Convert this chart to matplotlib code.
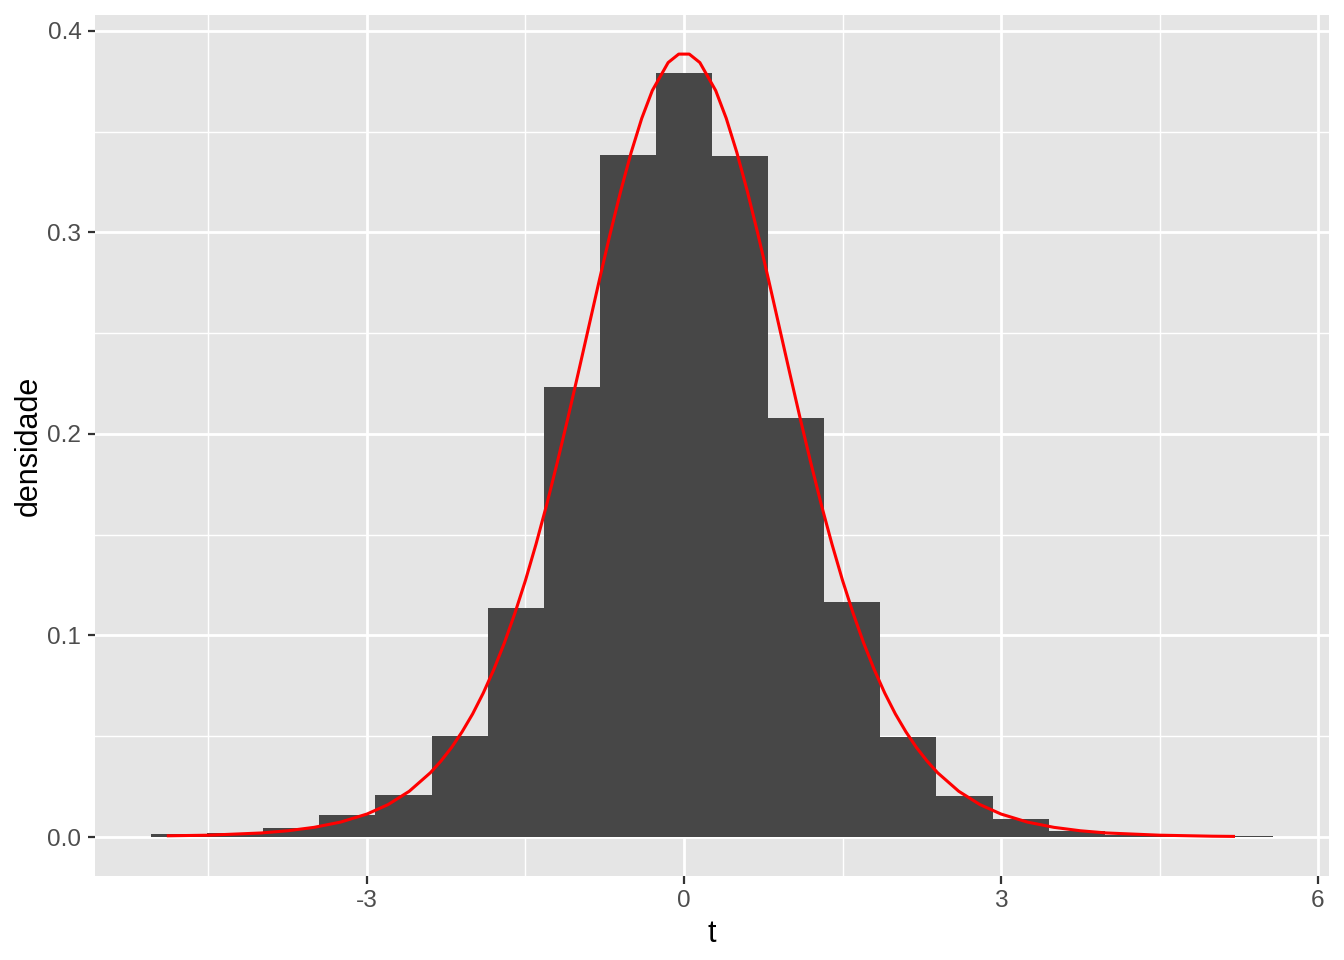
import matplotlib
matplotlib.use("Agg")
import matplotlib.pyplot as plt
import numpy as np

plt.rcParams['font.family'] = ['Liberation Sans', 'DejaVu Sans']

# Histogram (density)
bin_width = 0.531
bin_centers_idx = list(range(-9, 11))
densities = [0.0015, 0.0018, 0.0046, 0.0109, 0.0208, 0.0501, 0.1136, 0.2233,
             0.3385, 0.3792, 0.3380, 0.2080, 0.1166, 0.0496, 0.0203, 0.0089,
             0.0030, 0.0010, 0.0007, 0.0005]

# Density curve points
curve_x = [-4.88, -4.5, -4.0, -3.75, -3.5, -3.25, -3.0, -2.8, -2.6, -2.4, -2.3,
           -2.2, -2.1, -2.0, -1.9, -1.8, -1.7, -1.6, -1.5, -1.4, -1.3, -1.2,
           -1.1, -1.0, -0.9, -0.8, -0.7, -0.6, -0.5, -0.4, -0.3, -0.15, -0.05,
           0.05, 0.15, 0.3, 0.4, 0.5, 0.6, 0.7, 0.8, 0.9, 1.0, 1.1, 1.2, 1.3,
           1.4, 1.5, 1.6, 1.7, 1.8, 1.9, 2.0, 2.1, 2.2, 2.3, 2.4, 2.6, 2.8,
           3.0, 3.25, 3.5, 3.75, 4.0, 4.5, 5.0, 5.2]
curve_y = [0.0006, 0.0009, 0.0020, 0.0031, 0.0048, 0.0074, 0.0114, 0.0161,
           0.0227, 0.0319, 0.0377, 0.0444, 0.0522, 0.0611, 0.0714, 0.0831,
           0.0963, 0.1111, 0.1274, 0.1454, 0.1648, 0.1857, 0.2076, 0.2304,
           0.2535, 0.2766, 0.2991, 0.3203, 0.3397, 0.3566, 0.3704, 0.3843,
           0.3885, 0.3885, 0.3843, 0.3704, 0.3566, 0.3397, 0.3203, 0.2991,
           0.2766, 0.2535, 0.2304, 0.2076, 0.1857, 0.1648, 0.1454, 0.1274,
           0.1111, 0.0963, 0.0831, 0.0714, 0.0611, 0.0522, 0.0444, 0.0377,
           0.0319, 0.0227, 0.0161, 0.0114, 0.0074, 0.0048, 0.0031, 0.0020,
           0.0009, 0.0004, 0.0003]

x_ticks = [-3, 0, 3, 6]
x_tick_labels = ['-3', '0', '3', '6']
y_ticks = [0.0, 0.1, 0.2, 0.3, 0.4]
y_tick_labels = ['0.0', '0.1', '0.2', '0.3', '0.4']

fig = plt.figure(figsize=(6.72, 4.8), dpi=200)
ax = fig.add_axes([95/1344, 1 - 876/960, (1329 - 95)/1344, (876 - 15)/960])
ax.set_facecolor('#E5E5E5')

centers = np.array(bin_centers_idx) * bin_width
ax.bar(centers, densities, width=bin_width, color='#474747', linewidth=0, zorder=2)
ax.plot(curve_x, curve_y, color='#FF0000', linewidth=1.1, zorder=3)

ax.set_xlim(-5.574, 6.104)
ax.set_ylim(-0.01935, 0.4079)

ax.set_xticks(x_ticks)
ax.set_xticklabels(x_tick_labels)
ax.set_yticks(y_ticks)
ax.set_yticklabels(y_tick_labels)
ax.set_xticks([-4.5, -1.5, 1.5, 4.5], minor=True)
ax.set_yticks([0.05, 0.15, 0.25, 0.35], minor=True)

ax.grid(which='major', color='white', linewidth=1.0, zorder=0)
ax.grid(which='minor', color='white', linewidth=0.5, zorder=0)
ax.set_axisbelow(True)

for s in ax.spines.values():
    s.set_visible(False)

ax.tick_params(axis='both', which='major', length=2.7, width=0.8, color='#333333',
               labelsize=8.8, labelcolor='#4D4D4D', pad=2.2)
ax.tick_params(axis='both', which='minor', length=0)

ax.set_xlabel('t', fontsize=11, color='black', labelpad=2.5)
ax.set_ylabel('densidade', fontsize=11, color='black', labelpad=1.2)

fig.savefig('out.png', dpi=200)
